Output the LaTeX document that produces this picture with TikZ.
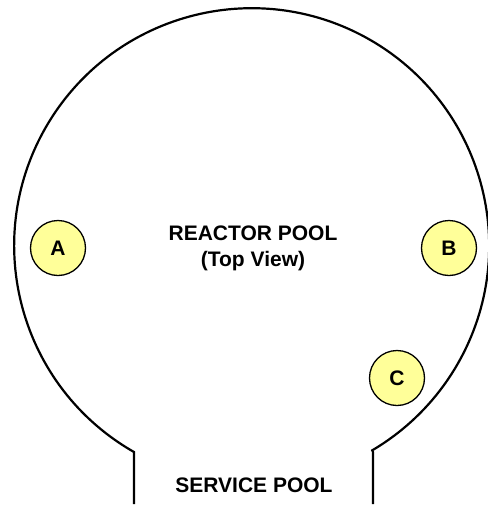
\documentclass[tikz,border=0pt]{standalone}
\usepackage{fontspec}
\setmainfont{Liberation Sans}
\begin{document}
\begin{tikzpicture}[x=1pt,y=-1pt,
  wall/.style={line width=2.2pt,line join=miter},
  probe/.style={circle,draw=black,line width=1.3pt,fill=probefill,minimum size=55pt,inner sep=0pt,font=\fontsize{21}{25}\selectfont\bfseries},
  lbl/.style={align=center,font=\fontsize{21}{26}\selectfont\bfseries}]
\definecolor{probefill}{HTML}{FFFF99}
\useasboundingbox (0,0) rectangle (488,507);
\coordinate (ctr) at (251.5,246);
\coordinate (lj) at (134,452);
\coordinate (rj) at (373,452);
\coordinate (lb) at (134,504);
\coordinate (rb) at (373,504);
\draw[wall] (lb) -- (lj) arc[start angle=119.7,end angle=419.5,radius=237.5] -- (rj) -- (rb);
\node[lbl] (reactor) at (253,248) {REACTOR POOL\\(Top View)};
\node[lbl] (service) at (254,485) {SERVICE POOL};
\node[probe] (A) at (58,248) {A};
\node[probe] (B) at (449,248) {B};
\node[probe] (C) at (397,378) {C};
\end{tikzpicture}
\end{document}
